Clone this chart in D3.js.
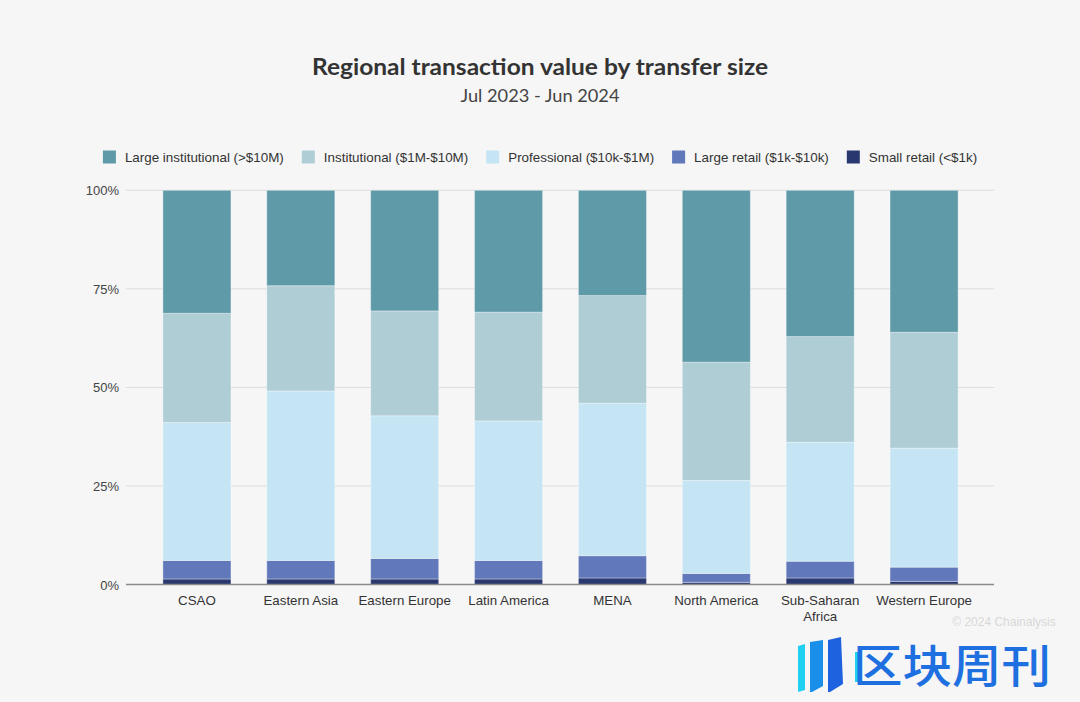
<!DOCTYPE html>
<html>
<head>
<meta charset="utf-8">
<script src="https://cdn.jsdelivr.net/npm/d3@7"></script>
<style>
  html, body { margin: 0; padding: 0; background: #f6f6f6; }
  svg { display: block; }
</style>
</head>
<body>
<svg id="chart" width="1080" height="702"></svg>
<script>
// ---------- data ----------
const categories = ["CSAO", "Eastern Asia", "Eastern Europe", "Latin America", "MENA", "North America", "Sub-Saharan Africa", "Western Europe"];
const seriesNames = ["Small retail (<$1k)", "Large retail ($1k-$10k)", "Professional ($10k-$1M)", "Institutional ($1M-$10M)", "Large institutional (>$10M)"];
const smallRetail        = [1.4, 1.4, 1.4, 1.4, 1.65, 0.55, 1.65, 0.8];
const largeRetail        = [4.7, 4.7, 5.2, 4.7, 5.65, 2.25, 4.25, 3.6];
const professional       = [35.0, 43.0, 36.2, 35.4, 38.7, 23.6, 30.2, 30.2];
const institutional      = [27.7, 26.7, 26.6, 27.6, 27.3, 30.0, 26.8, 29.4];
const largeInstitutional = [31.2, 24.2, 30.6, 30.9, 26.7, 43.6, 37.1, 36.0];
const yTicks = [0, 25, 50, 75, 100];
const colors = ["#2a3870", "#6178ba", "#c5e5f5", "#afcdd5", "#5e9aa8"];
const title = "Regional transaction value by transfer size";
const subtitle = "Jul 2023 - Jun 2024";

// ---------- build table ----------
const seriesValues = [smallRetail, largeRetail, professional, institutional, largeInstitutional];
const table = categories.map((c, i) => {
  const row = { category: c };
  const total = seriesValues.reduce((s, arr) => s + arr[i], 0);
  seriesNames.forEach((n, k) => { row[n] = seriesValues[k][i] / total * 100; });
  return row;
});
const stacked = d3.stack().keys(seriesNames)(table);

const svg = d3.select("#chart");
svg.append("rect").attr("width", 1080).attr("height", 702).attr("fill", "#f6f6f6");

// ---------- title ----------
svg.append("text").attr("x", 540).attr("y", 75).attr("text-anchor", "middle")
  .attr("font-family", "Lato, 'Open Sans', sans-serif").attr("font-weight", 700)
  .attr("font-size", 23).attr("fill", "#333")
  .attr("textLength", 456).attr("lengthAdjust", "spacingAndGlyphs").text(title);
svg.append("text").attr("x", 540).attr("y", 102).attr("text-anchor", "middle")
  .attr("font-family", "Lato, 'Open Sans', sans-serif").attr("font-weight", 400)
  .attr("font-size", 17.5).attr("fill", "#444")
  .attr("textLength", 159).attr("lengthAdjust", "spacingAndGlyphs").text(subtitle);

// ---------- scales ----------
const plotLeft = 126, plotRight = 994;
const y = d3.scaleLinear().domain([0, 100]).range([584.5, 190.3]);
const x = d3.scaleBand().domain(categories).range([145, 976])
  .paddingInner(0.345).paddingOuter(0.1725);

// grid
const gridG = svg.append("g");
gridG.selectAll("line").data(yTicks.filter(t => t > 0)).join("line")
  .attr("x1", plotLeft).attr("x2", plotRight)
  .attr("y1", d => y(d)).attr("y2", d => y(d))
  .attr("stroke", "#dcdcdc").attr("stroke-width", 1);

// y axis labels
const yAxis = d3.axisLeft(y).tickValues(yTicks).tickFormat(d => d + "%").tickSize(0).tickPadding(0);
const yg = svg.append("g").attr("transform", `translate(119,0)`).call(yAxis);
yg.select(".domain").remove();
yg.selectAll("text").attr("font-family", "'Liberation Sans', Arial, sans-serif")
  .attr("font-size", 13).attr("fill", "#444").attr("dy", "0.35em");

// bars
svg.append("g").selectAll("g").data(stacked).join("g")
  .attr("fill", (d, i) => colors[i])
  .selectAll("rect").data(d => d).join("rect")
  .attr("x", d => x(d.data.category))
  .attr("width", x.bandwidth())
  .attr("y", d => y(d[1]))
  .attr("height", d => y(d[0]) - y(d[1]))
  .attr("stroke", "#ffffff").attr("stroke-opacity", 0.35).attr("stroke-width", 1);

// zero line
svg.append("line").attr("x1", plotLeft).attr("x2", plotRight)
  .attr("y1", y(0)).attr("y2", y(0)).attr("stroke", "#8a8a8a").attr("stroke-width", 1.5);

// x axis labels
const xAxis = d3.axisBottom(x).tickSize(0).tickPadding(0);
const xg = svg.append("g").attr("transform", `translate(0,${y(0)})`).call(xAxis);
xg.select(".domain").remove();
xg.selectAll("text").attr("font-family", "'Liberation Sans', Arial, sans-serif")
  .attr("font-size", 13.3).attr("fill", "#333").attr("dy", null).attr("y", 20)
  .each(function(d) {
    const t = d3.select(this);
    if (d === "Sub-Saharan Africa") {
      t.text(null);
      t.append("tspan").attr("x", 0).attr("y", 20).text("Sub-Saharan");
      t.append("tspan").attr("x", 0).attr("y", 36).text("Africa");
    }
  });

// legend (order as shown: largest first)
const legendOrder = seriesNames.map((n, i) => ({ name: n, color: colors[i] })).reverse();
const legendG = svg.append("g");
const fontLeg = "'Liberation Sans', Arial, sans-serif";
let cx = 0;
const items = legendG.selectAll("g").data(legendOrder).join("g");
items.append("rect").attr("width", 13).attr("height", 13).attr("y", -6.5).attr("fill", d => d.color);
items.append("text").attr("x", 22).attr("y", 0).attr("dy", "0.35em")
  .attr("font-family", fontLeg).attr("font-size", 13.4).attr("fill", "#333").text(d => d.name);
items.each(function() {
  const g = d3.select(this);
  const w = 22 + g.select("text").node().getComputedTextLength();
  g.attr("transform", `translate(${cx},0)`);
  cx += w + 18;
});
const legendW = cx - 18;
legendG.attr("transform", `translate(${540 - legendW / 2},157)`);

// watermark / source
svg.append("text").attr("x", 1004).attr("y", 626).attr("text-anchor", "middle")
  .attr("font-family", fontLeg).attr("font-size", 12).attr("fill", "#d8d8d8")
  .text("© 2024 Chainalysis");
const wm = svg.append("g");
wm.append("path").attr("d", "M798,646 L805,644 L805,690 L798,692 Z").attr("fill", "#1fd0f0");
wm.append("path").attr("d", "M810,642 L823,640 L823,686 L812,692 L810,692 Z").attr("fill", "#1a8fea");
wm.append("path").attr("d", "M828,640 L841,637 L843,684 L830,692 L828,692 Z").attr("fill", "#1e62e0");
wm.append("rect").attr("x", 855).attr("y", 652).attr("width", 3.5).attr("height", 30).attr("fill", "#1fd0f0");
wm.append("text").attr("x", 853).attr("y", 683)
  .attr("font-family", "'Noto Sans CJK SC', sans-serif").attr("font-size", 45).attr("font-weight", 500)
  .attr("fill", "#1e6fe0").attr("textLength", 198).attr("lengthAdjust", "spacingAndGlyphs").text("区块周刊");
</script>
</body>
</html>
